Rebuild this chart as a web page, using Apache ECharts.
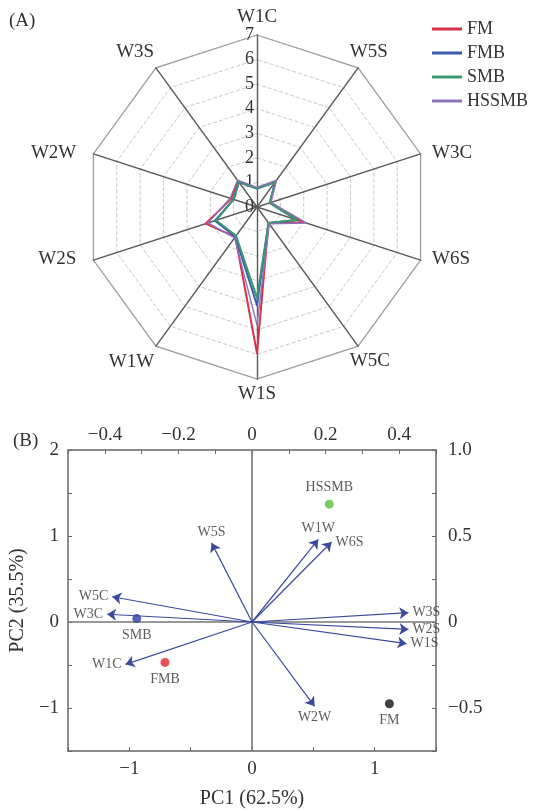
<!DOCTYPE html>
<html><head><meta charset="utf-8">
<script src="https://cdn.jsdelivr.net/npm/echarts@6/dist/echarts.min.js"></script>
<style>html,body{margin:0;padding:0;background:#fff}#c{width:535px;height:810px}</style>
</head><body><div id="c"></div>
<script>
// ---- Panel A: radar (indicator order as placed by ECharts, counter-clockwise from top) ----
const radarIndicators = ['W1C','W3S','W2W','W2S','W1W','W1S','W5C','W6S','W3C','W5S'];
const radarTicks = [0, 1, 2, 3, 4, 5, 6, 7];
const radarMax = 7;
const seriesNames = ['FM','FMB','SMB','HSSMB'];
const FM    = [0.75, 1.3, 1.1, 2.2, 1.5, 5.95, 0.8, 2.0, 0.55, 1.3];
const FMB   = [0.75, 1.25, 1.0, 1.8, 1.5, 4.0, 0.8, 1.7, 0.55, 1.25];
const SMB   = [0.75, 1.25, 1.0, 1.75, 1.45, 3.7, 0.8, 1.7, 0.55, 1.25];
const HSSMB = [0.8, 1.35, 1.15, 2.1, 1.55, 4.8, 0.85, 2.1, 0.6, 1.35];

// ---- Panel B: PCA biplot ----
const sampleNames = ['HSSMB','SMB','FMB','FM'];
const samplePC1 = [0.63, -0.94, -0.71, 1.12];
const samplePC2 = [1.37, 0.04, -0.47, -0.95];
const loadNames = ['W5S','W5C','W3C','W1C','W1W','W6S','W3S','W2S','W1S','W2W'];
const loadPC1 = [-0.11, -0.38, -0.394, -0.344, 0.18, 0.216, 0.425, 0.425, 0.42, 0.17];
const loadPC2 = [0.46, 0.147, 0.045, -0.246, 0.48, 0.465, 0.054, -0.043, -0.126, -0.49];

const serif = '"Liberation Serif","DejaVu Serif",serif';
const colors = {FM:'#d8314b', FMB:'#3b5db0', SMB:'#3a9870', HSSMB:'#8c72b8'};
const sampleColors = {HSSMB:'#5dbd3a', SMB:'#2b3e9c', FMB:'#e2262a', FM:'#111111'};
const samplePos = {HSSMB:'top', SMB:'bottom', FMB:'bottom', FM:'bottom'};
const loadPos = {W5S:'top', W5C:'left', W3C:'left', W1C:'left', W1W:'top', W6S:'right', W3S:'right', W2S:'right', W1S:'right', W2W:'bottom'};
// radar axis-name placement tweaks (layout only)
const nameLayout = {
  W1C:{gap:3,  pad:[0,0,0,0]},
  W3S:{gap:3,  pad:[0,0,27,0]},
  W2W:{gap:18, pad:[10,0,0,0]},
  W2S:{gap:18, pad:[0,0,13,0]},
  W1W:{gap:3,  pad:[26,0,0,0]},
  W1S:{gap:6,  pad:[0,0,0,0]},
  W5C:{gap:-14, pad:[53,0,0,0]},
  W6S:{gap:12, pad:[0,0,9,0]},
  W3C:{gap:12, pad:[6,0,0,0]},
  W5S:{gap:-14, pad:[0,0,54,0]}
};
const arrowColor = '#3b4a9e';

const minus = s => String(s).replace('-', '\u2212');
function fmtTop(v){ const r = Math.round(v*10); if (r % 2 !== 0) return ''; return r === 0 ? '0' : minus((r/10).toFixed(1)); }
function fmtInt(v){ const r = Math.round(v*2); if (r % 2 !== 0) return ''; return minus(String(r/2)); }
function fmtRight(v){ const r = Math.round(v*4); if (r % 2 !== 0) return ''; return r === 0 ? '0' : minus((r/4).toFixed(1)); }

const chart = echarts.init(document.getElementById('c'), null, {renderer:'canvas'});

const radarSeriesData = [FM, FMB, SMB, HSSMB].map((vals, i) => ({
  name: seriesNames[i], value: vals,
  lineStyle: {color: colors[seriesNames[i]], width: seriesNames[i]==='HSSMB' ? 1.4 : 2},
  itemStyle: {color: colors[seriesNames[i]]}
}));

const richNames = {};
radarIndicators.forEach(n => {
  richNames[n] = {fontFamily:serif, fontSize:19, color:'#333', padding: nameLayout[n].pad};
});

const axisLineStyle = {show:true, onZero:false, lineStyle:{color:'#666', width:1.5}};
const tickStyle = {show:true, inside:true, length:4, lineStyle:{color:'#666'}};

const option = {
  animation: false,
  backgroundColor: '#fff',
  textStyle: {fontFamily: serif},
  title: [
    {text:'(A)', left:4, top:7, textStyle:{fontFamily:serif, fontSize:19, fontWeight:'normal', color:'#333'}},
    {text:'(B)', left:8, top:427, textStyle:{fontFamily:serif, fontSize:19, fontWeight:'normal', color:'#333'}}
  ],
  legend: {
    data: seriesNames, orient:'vertical', left: 427, top: 15, itemGap: 6,
    itemWidth: 30, itemHeight: 3, icon: 'rect',
    textStyle: {fontFamily:serif, fontSize:18, color:'#333'}
  },
  radar: [
    {
      center: [257, 207], radius: 172, startAngle: 90, shape: 'polygon', splitNumber: radarTicks.length - 1,
      indicator: radarIndicators.map((n, i) => {
        const ind = {name:n, min:radarTicks[0], max:radarMax, nameGap: nameLayout[n].gap};
        if (i === 0) ind.axisLabel = {show:true, fontFamily:serif, fontSize:18, color:'#333', margin:3};
        return ind;
      }),
      axisName: {color:'#333', fontFamily:serif, fontSize:19,
        formatter: (value) => '{' + value + '|' + value + '}', rich: richNames},
      nameGap: 10,
      axisLine: {lineStyle:{color:'#5a5a5a', width:1.4}},
      axisLabel: {show:false},
      splitLine: {lineStyle:{color:'#c8c8c8', type:'dashed', width:1}},
      splitArea: {show:false}
    },
    {
      center: [257, 207], radius: 172, startAngle: 90, shape: 'polygon', splitNumber: 1,
      indicator: radarIndicators.map(n => ({name:'', min:0, max:radarMax})),
      axisName: {show:false},
      axisLine: {show:false},
      axisLabel: {show:false},
      splitLine: {lineStyle:{color:'#a0a0a0', type:'solid', width:1.3}},
      splitArea: {show:false}
    }
  ],
  grid: {left: 66, right: 99, top: 450, bottom: 59},
  xAxis: [
    {type:'value', position:'bottom', min:-1.5, max:1.5, interval:0.5,
     axisLine: axisLineStyle, axisTick: tickStyle, splitLine:{show:false},
     axisLabel:{formatter: fmtInt, fontFamily:serif, fontSize:19, color:'#333', margin:9},
     name:'PC1 (62.5%)', nameLocation:'middle', nameGap:38,
     nameTextStyle:{fontFamily:serif, fontSize:20, color:'#333'}},
    {type:'value', position:'top', min:-0.5, max:0.5, interval:0.1,
     axisLine: axisLineStyle, axisTick: tickStyle, splitLine:{show:false},
     axisLabel:{formatter: fmtTop, fontFamily:serif, fontSize:19, color:'#333', margin:5}}
  ],
  yAxis: [
    {type:'value', position:'left', min:-1.5, max:2, interval:0.5,
     axisLine: axisLineStyle, axisTick: tickStyle, splitLine:{show:false},
     axisLabel:{formatter: fmtInt, fontFamily:serif, fontSize:19, color:'#333', margin:9},
     name:'PC2 (35.5%)', nameLocation:'middle', nameGap:34, nameRotate:90,
     nameTextStyle:{fontFamily:serif, fontSize:20, color:'#333'}},
    {type:'value', position:'right', min:-0.75, max:1.0, interval:0.25,
     axisLine: axisLineStyle, axisTick: tickStyle, splitLine:{show:false},
     axisLabel:{formatter: fmtRight, fontFamily:serif, fontSize:19, color:'#333', margin:12}}
  ],
  series: [
    {type:'radar', radarIndex:0, symbol:'none', data: radarSeriesData, z:3},
    // zero lines
    {type:'line', xAxisIndex:0, yAxisIndex:0, data:[], silent:true,
     markLine:{silent:true, symbol:['none','none'], label:{show:false},
       lineStyle:{color:'#777', type:'solid', width:1.6},
       data:[{xAxis:0},{yAxis:0}]}},
    // loading arrows
    {type:'scatter', xAxisIndex:1, yAxisIndex:1, symbolSize:0, silent:true,
     data: loadNames.map((n,i)=>({value:[loadPC1[i], loadPC2[i]], name:n,
       label:{show:true, position:loadPos[n], formatter:n, distance:4,
              fontFamily:serif, fontSize:14, color:'#333'}})),
     markLine:{silent:true, symbol:['none','arrow'], symbolSize:9, label:{show:false},
       lineStyle:{color:arrowColor, type:'solid', width:1.2},
       data: loadNames.map((n,i)=>[{coord:[0,0]},{coord:[loadPC1[i], loadPC2[i]]}])},
     z:4},
    // sample scores
    {type:'scatter', xAxisIndex:0, yAxisIndex:0, symbolSize:9, silent:true,
     data: sampleNames.map((n,i)=>({value:[samplePC1[i], samplePC2[i]], name:n,
       itemStyle:{color:sampleColors[n]},
       label:{show:true, position:samplePos[n], formatter:n, distance:5,
              fontFamily:serif, fontSize:14, color:'#333'}})),
     z:5}
  ]
};
chart.setOption(option);
</script>
</body></html>
